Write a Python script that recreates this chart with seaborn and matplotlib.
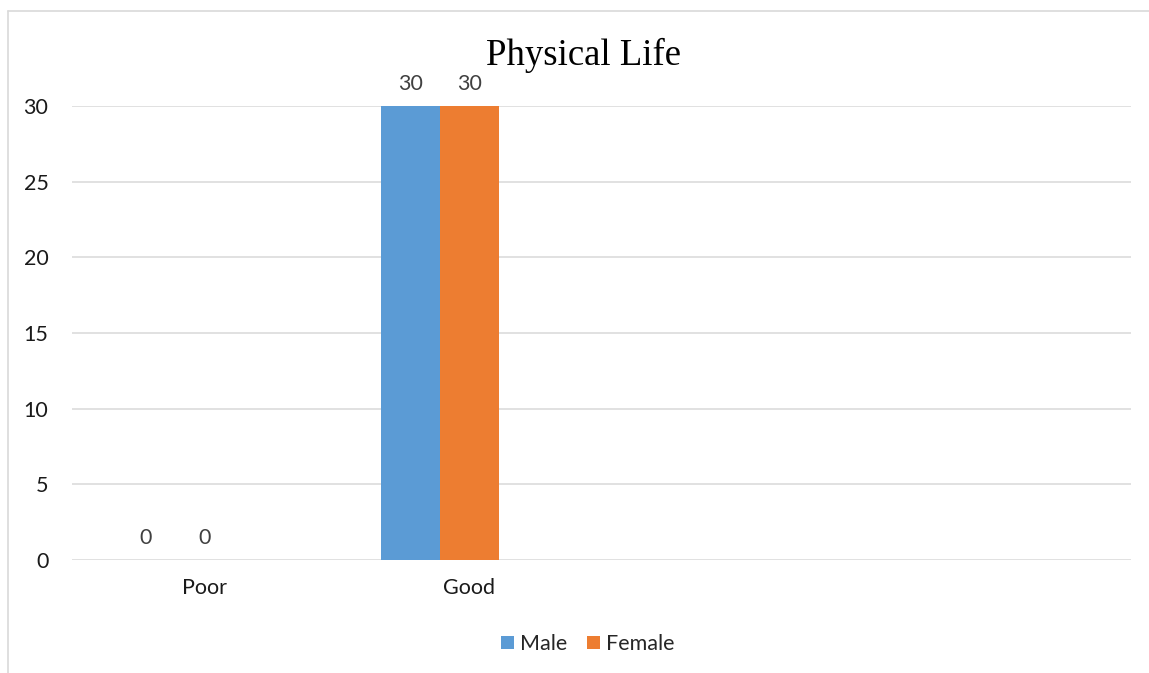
import matplotlib
matplotlib.use("Agg")
import matplotlib.pyplot as plt
import pandas as pd
import seaborn as sns
from matplotlib.patches import Patch
from matplotlib.lines import Line2D

# Survey counts by rating
categories = ["Poor", "Good"]
male = [0, 30]
female = [0, 30]
series_names = ["Male", "Female"]
# the workbook carries a third, empty series that still takes a slot in each group
empty_series = "Series3"
y_ticks = [0, 5, 10, 15, 20, 25, 30]
title = "Physical Life"

colors = {"Male": "#5B9BD5", "Female": "#ED7D31", empty_series: "#A5A5A5"}

df = pd.DataFrame({
    "category": categories * 2,
    "series": ["Male"] * len(categories) + ["Female"] * len(categories),
    "value": male + female,
})

sns.set_style("white")
plt.rcParams["font.family"] = ["Lato", "DejaVu Sans"]

W, H = 1149, 673
fig = plt.figure(figsize=(W / 100, H / 100), dpi=100)
ax = fig.add_axes([72 / W, (H - 560) / H, (1131 - 72) / W, (560 - 106) / H])

sns.barplot(
    data=df, x="category", y="value", hue="series",
    hue_order=series_names + [empty_series], palette=colors,
    width=0.669, saturation=1, legend=False, ax=ax, order=categories,
    linewidth=0, edgecolor="none",
)

ax.set_xlim(-0.5, 3.5)
ax.set_ylim(0, 30)
ax.set_yticks(y_ticks)
ax.set_xlabel("")
ax.set_ylabel("")
for s in ax.spines.values():
    s.set_visible(False)
ax.grid(axis="y", color="#D9D9D9", linewidth=1.1)
ax.grid(axis="x", visible=False)
ax.set_axisbelow(True)
ax.tick_params(axis="y", length=0, pad=17, labelsize=15.5, labelcolor="#1a1a1a")
ax.tick_params(axis="x", length=0, pad=13, labelsize=15.5, labelcolor="#1a1a1a")

for cont in ax.containers:
    ax.bar_label(cont, fmt="%g", padding=9, fontsize=15.5, color="#404040")

fig.text(583 / W, 1 - 65 / H, title, ha="center", va="baseline",
         fontsize=26.5, family="Liberation Serif", color="black")

handles = [Patch(facecolor=colors[n], edgecolor="none", label=n) for n in series_names]
fig.legend(handles=handles, loc="center", bbox_to_anchor=(588 / W, 1 - 644 / H),
           ncol=2, frameon=False, fontsize=15.5, handlelength=0.6, handleheight=0.6,
           handletextpad=0.3, columnspacing=0.9, borderpad=0, borderaxespad=0)

# chart-area frame (top and left edges visible)
bx, by = 8 / W, 1 - 10.5 / H
fig.add_artist(Line2D([bx, bx], [0, by], color="#D9D9D9", lw=1.2, transform=fig.transFigure))
fig.add_artist(Line2D([bx, 1], [by, by], color="#D9D9D9", lw=1.2, transform=fig.transFigure))

fig.savefig("out.png", dpi=100, facecolor="white")
